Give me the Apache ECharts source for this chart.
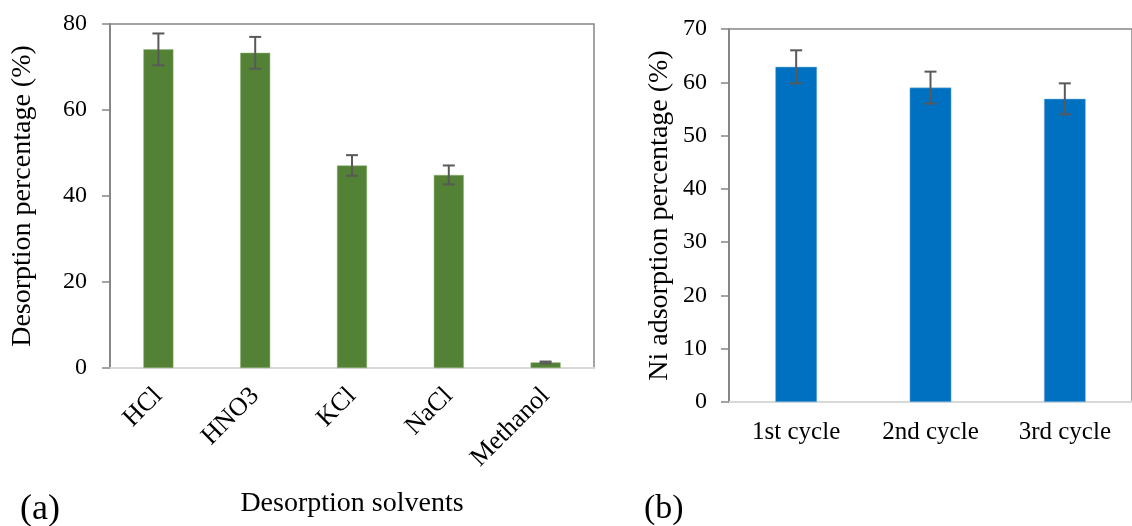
<!DOCTYPE html>
<html>
<head>
<meta charset="utf-8">
<script src="https://cdn.jsdelivr.net/npm/echarts@6/dist/echarts.min.js"></script>
<style>
  html, body { margin: 0; padding: 0; background: #fff; }
  #main { width: 1132px; height: 526px; }
</style>
</head>
<body>
<div id="main"></div>
<script>
// (a) desorption solvents
const solvents = ['HCl', 'HNO3', 'KCl', 'NaCl', 'Methanol'];
const desorption = [74.1, 73.3, 47.1, 44.9, 1.3];
const desorptionErr = [3.7, 3.7, 2.4, 2.2, 0.2];

// (b) reuse cycles
const cycles = ['1st cycle', '2nd cycle', '3rd cycle'];
const adsorption = [62.9, 59.0, 56.9];
const adsorptionErr = [3.1, 3.0, 2.9];

const font = "'Times New Roman', 'Liberation Serif', serif";
const axisGray = '#868686';

// 误差线
function errorBar(params, api) {
    const x = api.value(0);
    const v = api.value(1);
    const e = api.value(2);
    const top = api.coord([x, v + e]);
    const bot = api.coord([x, v - e]);
    const hw = 6;
    const style = { stroke: '#595959', lineWidth: 2 };
    return {
        type: 'group',
        children: [
            { type: 'line', shape: { x1: top[0], y1: top[1], x2: bot[0], y2: bot[1] }, style },
            { type: 'line', shape: { x1: top[0] - hw, y1: top[1], x2: top[0] + hw, y2: top[1] }, style },
            { type: 'line', shape: { x1: bot[0] - hw, y1: bot[1], x2: bot[0] + hw, y2: bot[1] }, style }
        ]
    };
}

const chart = echarts.init(document.getElementById('main'));

chart.setOption({
    animation: false,
    textStyle: { fontFamily: font, color: '#000' },
    grid: [
        { left: 110, top: 24, width: 484, height: 344, show: true, borderColor: axisGray, borderWidth: 1.5 },
        { left: 729, top: 29, width: 414, height: 373, show: true, borderColor: axisGray, borderWidth: 1.5 }
    ],
    xAxis: [
        {
            gridIndex: 0, type: 'category', data: solvents,
            axisLine: { lineStyle: { color: '#d9d9d9', width: 2 } },
            axisTick: { show: false },
            axisLabel: { rotate: 45, fontSize: 26, color: '#000', fontFamily: font, margin: 24 },
            name: 'Desorption solvents', nameLocation: 'middle', nameGap: 122,
            nameTextStyle: { fontSize: 28, color: '#000', fontFamily: font }
        },
        {
            gridIndex: 1, type: 'category', data: cycles,
            axisLine: { lineStyle: { color: '#d9d9d9', width: 2 } },
            axisTick: { show: false },
            axisLabel: { fontSize: 25, color: '#000', fontFamily: font, margin: 18 },
        }
    ],
    yAxis: [
        {
            gridIndex: 0, type: 'value', min: 0, max: 80, interval: 20,
            axisLine: { show: true, lineStyle: { color: axisGray, width: 2 } },
            axisTick: { show: true, length: 8, lineStyle: { color: axisGray, width: 1.5 } },
            splitLine: { show: false },
            axisLabel: { fontSize: 24, color: '#000', fontFamily: font, margin: 23 },
            name: 'Desorption percentage (%)', nameLocation: 'middle', nameGap: 73,
            nameTextStyle: { fontSize: 28, color: '#000', fontFamily: font }
        },
        {
            gridIndex: 1, type: 'value', min: 0, max: 70, interval: 10,
            axisLine: { show: true, lineStyle: { color: axisGray, width: 2 } },
            axisTick: { show: true, length: 8, lineStyle: { color: axisGray, width: 1.5 } },
            splitLine: { show: false },
            axisLabel: { fontSize: 24, color: '#000', fontFamily: font, margin: 22 },
            name: 'Ni adsorption percentage (%)', nameLocation: 'middle', nameGap: 55,
            nameTextStyle: { fontSize: 28, color: '#000', fontFamily: font }
        }
    ],
    series: [
        {
            type: 'bar', xAxisIndex: 0, yAxisIndex: 0, data: desorption, barWidth: '31%',
            itemStyle: { color: '#538135', borderColor: '#8fb573', borderWidth: 0.5 }
        },
        {
            type: 'custom', xAxisIndex: 0, yAxisIndex: 0, renderItem: errorBar,
            encode: { x: 0, y: 1 }, z: 5,
            data: desorption.map((v, i) => [i, v, desorptionErr[i]])
        },
        {
            type: 'bar', xAxisIndex: 1, yAxisIndex: 1, data: adsorption, barWidth: '31%',
            itemStyle: { color: '#0070c0', borderColor: '#7fb6e0', borderWidth: 0.5 }
        },
        {
            type: 'custom', xAxisIndex: 1, yAxisIndex: 1, renderItem: errorBar,
            encode: { x: 0, y: 1 }, z: 5,
            data: adsorption.map((v, i) => [i, v, adsorptionErr[i]])
        }
    ],
    graphic: [
        { type: 'text', left: 20, top: 492, style: { text: '(a)', font: '36px ' + font, fill: '#000' } },
        { type: 'text', left: 644, top: 492, style: { text: '(b)', font: '34px ' + font, fill: '#000' } }
    ]
});
</script>
</body>
</html>
